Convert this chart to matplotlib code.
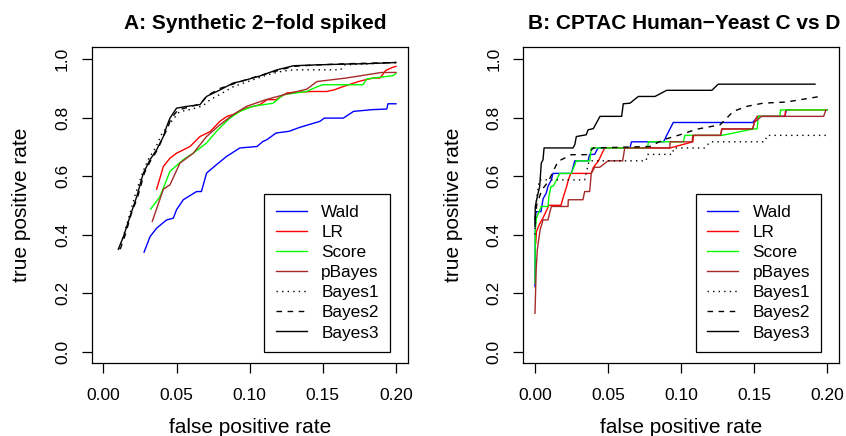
import matplotlib
matplotlib.use("Agg")
import matplotlib.pyplot as plt

plt.rcParams['font.family'] = ['Liberation Sans', 'DejaVu Sans']

methods = ["Wald", "LR", "Score", "pBayes", "Bayes1", "Bayes2", "Bayes3"]
colors = ["#0000FF", "#FF0000", "#00FF00", "#A52A2A", "black", "black", "black"]
styles = ["-", "-", "-", "-", (0, (1, 3)), (0, (4, 4)), "-"]

# ---- panel A: synthetic 2-fold spiked (fpr, tpr per method)
a_wald_fpr = [0.0278, 0.0319, 0.0364, 0.0432, 0.0478, 0.050, 0.0546, 0.0637, 0.067, 0.0705,
              0.0773, 0.0842, 0.0933, 0.105, 0.109, 0.1117, 0.118, 0.127, 0.134, 0.148, 0.151,
              0.164, 0.171, 0.184, 0.1937, 0.1945, 0.2]
a_wald_tpr = [0.340, 0.393, 0.422, 0.450, 0.456, 0.485, 0.519, 0.547, 0.547, 0.610,
              0.639, 0.667, 0.696, 0.701, 0.718, 0.724, 0.747, 0.753, 0.766, 0.787, 0.798,
              0.798, 0.821, 0.827, 0.829, 0.847, 0.847]
a_lr_fpr = [0.0364, 0.041, 0.0455, 0.050, 0.0592, 0.066, 0.073, 0.0796, 0.0845, 0.0887,
            0.0978, 0.107, 0.112, 0.118, 0.1254, 0.130, 0.143, 0.1527, 0.158, 0.164, 0.175,
            0.1845, 0.189, 0.193, 0.197, 0.2]
a_lr_tpr = [0.555, 0.633, 0.661, 0.678, 0.701, 0.735, 0.752, 0.787, 0.804, 0.810,
            0.832, 0.844, 0.861, 0.861, 0.884, 0.886, 0.889, 0.889, 0.895, 0.906, 0.924,
            0.935, 0.935, 0.961, 0.970, 0.975]
a_score_fpr = [0.0323, 0.0387, 0.0455, 0.0546, 0.0614, 0.0705, 0.0773, 0.0864, 0.0933, 0.102,
               0.116, 0.123, 0.139, 0.146, 0.150, 0.1775, 0.180, 0.198, 0.2]
a_score_tpr = [0.487, 0.530, 0.616, 0.656, 0.678, 0.713, 0.753, 0.798, 0.821, 0.838,
               0.849, 0.878, 0.889, 0.905, 0.912, 0.912, 0.932, 0.943, 0.950]
a_pbayes_fpr = [0.0334, 0.041, 0.0455, 0.0523, 0.0614, 0.0705, 0.0796, 0.0887, 0.0978, 0.111,
                0.125, 0.139, 0.146, 0.166, 0.180, 0.19, 0.2]
a_pbayes_tpr = [0.445, 0.555, 0.570, 0.644, 0.678, 0.735, 0.775, 0.810, 0.838, 0.861,
                0.880, 0.897, 0.923, 0.935, 0.946, 0.954, 0.954]
a_bayes1_fpr = [0.0105, 0.014, 0.018, 0.022, 0.027, 0.031, 0.036, 0.040, 0.044, 0.047, 0.052,
                0.06, 0.068, 0.073, 0.08, 0.089, 0.1, 0.112, 0.122, 0.13, 0.162, 0.165, 0.2]
a_bayes1_tpr = [0.35, 0.40, 0.47, 0.54, 0.615, 0.66, 0.70, 0.745, 0.77, 0.79, 0.82,
                0.828, 0.84, 0.861, 0.88, 0.906, 0.925, 0.946, 0.958, 0.963, 0.963, 0.98, 0.988]
a_bayes2_fpr = [0.0115, 0.015, 0.019, 0.0235, 0.028, 0.032, 0.037, 0.041, 0.044, 0.046, 0.051,
                0.058, 0.066, 0.071, 0.08, 0.089, 0.098, 0.108, 0.119, 0.13, 0.146, 0.168, 0.2]
a_bayes2_tpr = [0.35, 0.40, 0.47, 0.53, 0.61, 0.65, 0.69, 0.735, 0.765, 0.795, 0.826,
                0.835, 0.846, 0.875, 0.9, 0.915, 0.93, 0.945, 0.96, 0.975, 0.98, 0.984, 0.988]
a_bayes3_fpr = [0.0102, 0.0137, 0.0182, 0.0228, 0.0273, 0.0319, 0.0364, 0.041, 0.0432, 0.0455,
                0.050, 0.0569, 0.066, 0.0705, 0.080, 0.0887, 0.0935, 0.0978, 0.107, 0.1186,
                0.130, 0.146, 0.168, 0.18, 0.2]
a_bayes3_tpr = [0.350, 0.393, 0.462, 0.530, 0.610, 0.656, 0.690, 0.735, 0.769, 0.798,
                0.832, 0.838, 0.844, 0.872, 0.895, 0.918, 0.923, 0.929, 0.942, 0.963,
                0.977, 0.980, 0.983, 0.984, 0.988]

# ---- panel B: CPTAC Human-Yeast C vs D
b_wald_fpr = [0, 0.0003, 0.0008, 0.0041, 0.0055, 0.0078, 0.0089, 0.0112, 0.0123, 0.0249, 0.026,
              0.0272, 0.0363, 0.0374, 0.0408, 0.0431, 0.065, 0.066, 0.088, 0.0901, 0.0946,
              0.149, 0.1526, 0.171, 0.172, 0.1745]
b_wald_tpr = [0.222, 0.46, 0.478, 0.478, 0.522, 0.543, 0.565, 0.587, 0.609, 0.609, 0.630,
              0.652, 0.652, 0.674, 0.674, 0.696, 0.696, 0.717, 0.717, 0.739, 0.783,
              0.783, 0.804, 0.804, 0.826, 0.826]
b_lr_fpr = [0.0005, 0.001, 0.003, 0.0055, 0.0075, 0.0095, 0.0178, 0.019, 0.0203, 0.0217,
            0.0228, 0.0245, 0.0385, 0.040, 0.0435, 0.0455, 0.0477, 0.0925, 0.108, 0.1085,
            0.127, 0.1277, 0.149, 0.150, 0.152, 0.171, 0.1715, 0.2]
b_lr_tpr = [0.37, 0.41, 0.435, 0.457, 0.478, 0.5, 0.5, 0.522, 0.543, 0.565,
            0.587, 0.609, 0.609, 0.630, 0.652, 0.674, 0.696, 0.696, 0.717, 0.739,
            0.739, 0.761, 0.761, 0.783, 0.804, 0.804, 0.826, 0.826]
b_score_fpr = [0, 0.0002, 0.001, 0.0043, 0.0089, 0.0095, 0.011, 0.0125, 0.0169, 0.0249, 0.0283,
               0.0375, 0.0385, 0.077, 0.0776, 0.1015, 0.1026, 0.128, 0.1495, 0.152, 0.1528,
               0.1676, 0.168, 0.2]
b_score_tpr = [0.234, 0.416, 0.456, 0.496, 0.496, 0.53, 0.565, 0.565, 0.609, 0.609, 0.652,
               0.652, 0.696, 0.696, 0.717, 0.717, 0.739, 0.739, 0.761, 0.761, 0.804,
               0.804, 0.826, 0.826]
b_pbayes_fpr = [0, 0.0008, 0.0016, 0.0025, 0.0035, 0.0055, 0.0089, 0.010, 0.0112, 0.0226,
                0.0228, 0.0328, 0.034, 0.0374, 0.0385, 0.0408, 0.0443, 0.050, 0.060, 0.0614,
                0.0922, 0.0925, 0.1075, 0.108, 0.127, 0.128, 0.149, 0.150, 0.155, 0.1975, 0.199]
b_pbayes_tpr = [0.131, 0.279, 0.348, 0.382, 0.416, 0.45, 0.45, 0.473, 0.496, 0.496,
                0.519, 0.519, 0.547, 0.547, 0.609, 0.630, 0.630, 0.652, 0.652, 0.696,
                0.696, 0.717, 0.717, 0.739, 0.739, 0.761, 0.761, 0.783, 0.804, 0.804, 0.826]
b_bayes1_fpr = [0, 0.001, 0.003, 0.034, 0.037, 0.076, 0.077, 0.094, 0.095, 0.116, 0.12,
                0.157, 0.159, 0.2]
b_bayes1_tpr = [0.40, 0.52, 0.587, 0.587, 0.652, 0.652, 0.674, 0.674, 0.696, 0.696, 0.717,
                0.717, 0.739, 0.739]
b_bayes2_fpr = [0, 0.0012, 0.0047, 0.0091, 0.0157, 0.0249, 0.0351, 0.040, 0.0787, 0.0878,
                0.0992, 0.1106, 0.1266, 0.1357, 0.1448, 0.156, 0.172, 0.195]
b_bayes2_tpr = [0.45, 0.502, 0.553, 0.581, 0.650, 0.673, 0.673, 0.696, 0.701, 0.724,
                0.741, 0.760, 0.775, 0.821, 0.838, 0.849, 0.853, 0.872]
b_bayes3_fpr = [0, 0.0002, 0.0016, 0.0032, 0.0043, 0.0055, 0.0062, 0.026, 0.0272, 0.0283,
                0.0351, 0.0363, 0.0399, 0.0445, 0.0593, 0.0604, 0.065, 0.0707, 0.0821,
                0.0901, 0.121, 0.1254, 0.1916]
b_bayes3_tpr = [0.428, 0.496, 0.53, 0.564, 0.644, 0.656, 0.696, 0.696, 0.707, 0.735,
                0.741, 0.758, 0.762, 0.804, 0.804, 0.847, 0.849, 0.872, 0.872,
                0.893, 0.893, 0.914, 0.914]

panel_a = [(a_wald_fpr, a_wald_tpr), (a_lr_fpr, a_lr_tpr), (a_score_fpr, a_score_tpr),
           (a_pbayes_fpr, a_pbayes_tpr), (a_bayes1_fpr, a_bayes1_tpr),
           (a_bayes2_fpr, a_bayes2_tpr), (a_bayes3_fpr, a_bayes3_tpr)]
panel_b = [(b_wald_fpr, b_wald_tpr), (b_lr_fpr, b_lr_tpr), (b_score_fpr, b_score_tpr),
           (b_pbayes_fpr, b_pbayes_tpr), (b_bayes1_fpr, b_bayes1_tpr),
           (b_bayes2_fpr, b_bayes2_tpr), (b_bayes3_fpr, b_bayes3_tpr)]

xticks = [0.0, 0.05, 0.10, 0.15, 0.20]
xticklabels = ["0.00", "0.05", "0.10", "0.15", "0.20"]
yticks = [0.0, 0.2, 0.4, 0.6, 0.8, 1.0]
yticklabels = ["0.0", "0.2", "0.4", "0.6", "0.8", "1.0"]


def draw_panel(ax, curves, title, title_x):
    for (x, y), name, c, ls in zip(curves, methods, colors, styles):
        ax.plot(x, y, color=c, linestyle=ls, lw=1.0, label=name)
    ax.set_xlim(-0.008, 0.208)
    ax.set_ylim(-0.04, 1.04)
    ax.set_xticks(xticks)
    ax.set_xticklabels(xticklabels)
    ax.set_yticks(yticks)
    ax.set_yticklabels(yticklabels, rotation=90, va="center")
    ax.tick_params(direction="out", length=7.2, width=0.9, labelsize=12.5)
    ax.tick_params(axis="x", pad=10.5)
    ax.tick_params(axis="y", pad=8.5)
    for s in ax.spines.values():
        s.set_linewidth(0.9)
    ax.set_xlabel("false positive rate", fontsize=15, labelpad=11)
    ax.set_ylabel("true positive rate", fontsize=15, labelpad=17)
    ax.set_title(title, fontsize=15, fontweight="bold", pad=13, x=title_x)
    leg = ax.legend(loc="lower right", bbox_to_anchor=(0.944, 0.0367), borderaxespad=0,
                    fontsize=12.4, frameon=True, fancybox=False, framealpha=1,
                    edgecolor="black", labelspacing=0.29, handlelength=1.8,
                    handletextpad=0.85, borderpad=0.65)
    leg.get_frame().set_linewidth(0.9)


fig = plt.figure(figsize=(8.46, 4.36), dpi=100)
ax1 = fig.add_axes([91.7 / 846, 72.7 / 436, 316 / 846, 316 / 436])
ax2 = fig.add_axes([523.3 / 846, 72.7 / 436, 315.7 / 846, 316 / 436])
draw_panel(ax1, panel_a, "A: Synthetic 2\u2212fold spiked", 0.519)
draw_panel(ax2, panel_b, "B: CPTAC Human\u2212Yeast C vs D", 0.511)
fig.savefig("out.png", dpi=100)
